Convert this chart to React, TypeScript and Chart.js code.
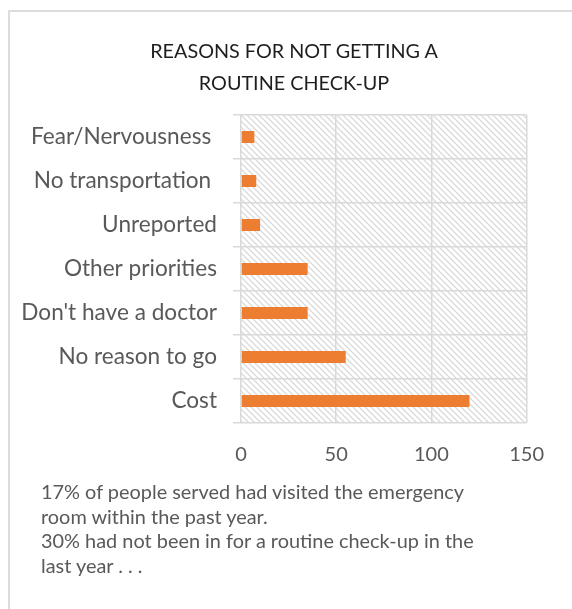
import React, { useEffect, useRef } from "react";
import { Chart, registerables } from "chart.js";

Chart.register(...registerables);

const titleLines = ["REASONS FOR NOT GETTING A", "ROUTINE CHECK-UP"];
const categories = [
  "Fear/Nervousness ",
  "No transportation ",
  "Unreported",
  "Other priorities",
  "Don't have a doctor",
  "No reason to go",
  "Cost",
];
const counts = [7, 8, 10, 35, 35, 55, 120];
const xTicks = [0, 50, 100, 150];
const noteLines = [
  "17% of people served had visited the emergency",
  "room within the past year.",
  "30% had not been in for a routine check-up in the",
  "last year . . .",
];

const FONT = "Lato, 'Open Sans', sans-serif";
const GRID = "#d9d9d9";
const TEXT = "#595959";

const hatchPlugin = {
  id: "hatchBg",
  beforeDraw(chart: any) {
    const { ctx, chartArea } = chart;
    if (!chartArea) return;
    const tile = document.createElement("canvas");
    const s = 6;
    tile.width = s;
    tile.height = s;
    const t = tile.getContext("2d")!;
    t.fillStyle = "#ffffff";
    t.fillRect(0, 0, s, s);
    t.strokeStyle = "#dadada";
    t.lineWidth = 1.3;
    t.beginPath();
    t.moveTo(-1, -1);
    t.lineTo(s + 1, s + 1);
    t.moveTo(-1, s - 1);
    t.lineTo(1, s + 1);
    t.moveTo(s - 1, -1);
    t.lineTo(s + 1, 1);
    t.stroke();
    const pattern = ctx.createPattern(tile, "repeat");
    ctx.save();
    ctx.fillStyle = pattern;
    ctx.fillRect(
      chartArea.left,
      chartArea.top,
      chartArea.right - chartArea.left,
      chartArea.bottom - chartArea.top
    );
    ctx.restore();
  },
};

export default function App() {
  const ref = useRef<HTMLCanvasElement | null>(null);

  useEffect(() => {
    if (!ref.current) return;
    const chart = new Chart(ref.current, {
      type: "bar",
      data: {
        labels: categories,
        datasets: [
          {
            data: counts,
            backgroundColor: "#ed7d31",
            borderWidth: 0,
            categoryPercentage: 0.5,
            barPercentage: 0.55,
          },
        ],
      },
      options: {
        indexAxis: "y",
        animation: false,
        responsive: false,
        maintainAspectRatio: false,
        layout: { padding: { left: 0, right: 35, top: 107, bottom: 5 } },
        plugins: {
          legend: { display: false },
          tooltip: { enabled: false },
          title: { display: false },
        },
        scales: {
          x: {
            min: 0,
            max: 150,
            afterBuildTicks(scale: any) {
              scale.ticks = xTicks.map((v) => ({ value: v }));
            },
            afterFit(scale: any) {
              scale.height = 50;
            },
            grid: { color: GRID, lineWidth: 1.5, drawTicks: false },
            border: { display: false },
            ticks: {
              color: TEXT,
              padding: 20,
              font: { family: FONT, size: 20 },
            },
          },
          y: {
            afterFit(scale: any) {
              scale.width = 233;
            },
            grid: { color: GRID, lineWidth: 1.5, offset: true, tickLength: 8 },
            border: { display: false },
            ticks: {
              color: TEXT,
              padding: 16,
              font: { family: FONT, size: 22.6 },
            },
          },
        },
      },
      plugins: [hatchPlugin],
    });
    return () => chart.destroy();
  }, []);

  return (
    <div style={{ position: "relative", width: 556, height: 590 }}>
      <div
        style={{
          position: "fixed",
          left: 8,
          top: 10,
          right: 0,
          bottom: 0,
          borderTop: "2px solid #dcdcdc",
          borderLeft: "2px solid #dcdcdc",
          pointerEvents: "none",
        }}
      />
      <canvas
        ref={ref}
        width={556}
        height={470}
        style={{ position: "absolute", left: 0, top: 0, width: 556, height: 470 }}
      />
      <div
        style={{
          position: "absolute",
          left: 136,
          top: 26,
          width: 300,
          textAlign: "center",
          fontFamily: FONT,
          fontSize: 19.8,
          lineHeight: "32px",
          color: "#1e1e1e",
          whiteSpace: "nowrap",
        }}
      >
        {titleLines.map((l, i) => (
          <div key={i}>{l}</div>
        ))}
      </div>
      <div
        style={{
          position: "absolute",
          left: 33,
          top: 471,
          fontFamily: FONT,
          fontSize: 19.9,
          lineHeight: "24.7px",
          color: TEXT,
          whiteSpace: "nowrap",
        }}
      >
        {noteLines.map((l, i) => (
          <div key={i}>{l}</div>
        ))}
      </div>
    </div>
  );
}
